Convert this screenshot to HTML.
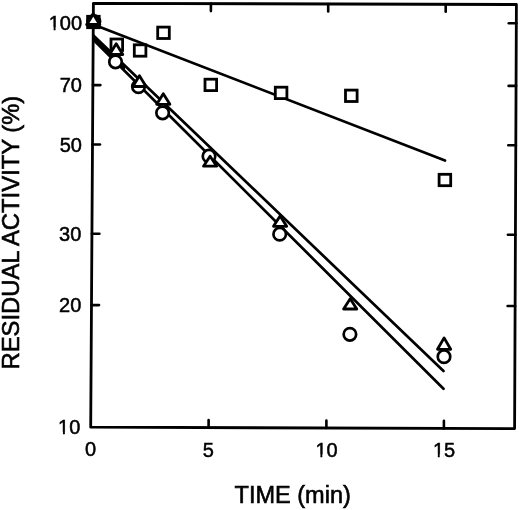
<!DOCTYPE html>
<html><head><meta charset="utf-8"><style>
html,body{margin:0;padding:0;background:#fff;}
body{width:520px;height:510px;overflow:hidden;font-family:"Liberation Sans",sans-serif;}
svg{display:block;will-change:transform;}
</style></head><body>
<svg width="520" height="510" viewBox="0 0 520 510">
<polygon points="93.4,3.3 516.4,4.5 514.6,428.6 90.7,427.2" fill="none" stroke="#000" stroke-width="2.8" stroke-linejoin="round"/>
<g stroke="#000" stroke-width="2.6" stroke-linecap="round"><line x1="210.9" y1="3.6" x2="210.9" y2="11.1"/><line x1="328.2" y1="4.0" x2="328.2" y2="11.5"/><line x1="445.7" y1="4.3" x2="445.7" y2="11.8"/><line x1="208.6" y1="427.6" x2="208.6" y2="420.1"/><line x1="326.4" y1="428.0" x2="326.4" y2="420.5"/><line x1="443.9" y1="428.4" x2="443.9" y2="420.9"/><line x1="92.9" y1="85.1" x2="100.4" y2="85.1"/><line x1="92.5" y1="144.5" x2="100.0" y2="144.5"/><line x1="91.9" y1="233.7" x2="99.4" y2="233.7"/><line x1="91.5" y1="305.1" x2="99.0" y2="305.1"/><line x1="516.3" y1="23.3" x2="508.8" y2="23.3"/><line x1="516.1" y1="85.9" x2="508.6" y2="85.9"/><line x1="515.8" y1="145.3" x2="508.3" y2="145.3"/><line x1="515.4" y1="234.7" x2="507.9" y2="234.7"/><line x1="515.1" y1="306.0" x2="507.6" y2="306.0"/></g>
<g stroke="#000" stroke-width="2.7" stroke-linecap="round"><line x1="93.4" y1="24.5" x2="445.0" y2="160.5"/><line x1="93.4" y1="35.5" x2="443.5" y2="371.0"/><line x1="93.4" y1="39.7" x2="443.5" y2="388.8"/></g><polygon points="93.4,35.50 125.0,65.78 125.0,71.21 93.4,39.70" fill="#000"/>
<g fill="#fff" stroke="#000" stroke-width="2.7"><g stroke-linejoin="miter" stroke-width="2.8"><rect x="87.60" y="16.30" width="11.60" height="11.40" fill="#000"/><rect x="111.00" y="39.00" width="11.60" height="11.40"/><rect x="134.30" y="44.80" width="11.60" height="11.40"/><rect x="157.70" y="27.10" width="11.60" height="11.40"/><rect x="205.00" y="79.20" width="11.60" height="11.40"/><rect x="275.30" y="87.20" width="11.60" height="11.40"/><rect x="345.50" y="90.10" width="11.60" height="11.40"/><rect x="439.10" y="174.30" width="11.60" height="11.40"/></g><g><circle cx="93.80" cy="21.60" r="6.25" fill="#000"/><circle cx="115.50" cy="61.80" r="6.25"/><circle cx="138.50" cy="86.70" r="6.25"/><circle cx="162.60" cy="112.80" r="6.25"/><circle cx="209.00" cy="156.20" r="6.25"/><circle cx="279.70" cy="234.20" r="6.25"/><circle cx="349.90" cy="334.30" r="6.25"/><circle cx="444.00" cy="356.70" r="6.25"/></g><g stroke-linejoin="round" stroke-width="2.8"><polygon points="93.25,13.83 99.72,24.48 86.78,24.48" stroke-width="3.05"/><polygon points="116.20,43.70 122.80,54.50 109.60,54.50"/><polygon points="139.45,75.80 146.05,86.50 132.85,86.50"/><polygon points="163.30,93.80 169.90,104.30 156.70,104.30"/><polygon points="210.10,156.20 216.70,166.20 203.50,166.20"/><polygon points="280.10,216.00 286.70,226.30 273.50,226.30"/><polygon points="350.20,298.80 356.80,309.00 343.60,309.00"/><polygon points="444.10,337.90 450.70,349.30 437.50,349.30"/></g></g>
<g font-family="Liberation Sans, sans-serif" fill="#000"><text x="82.1" y="29.7" text-anchor="end" font-size="20" stroke="#000" stroke-width="0.5">100</text><text x="82.0" y="92.3" text-anchor="end" font-size="20" stroke="#000" stroke-width="0.5">70</text><text x="82.0" y="151.7" text-anchor="end" font-size="20" stroke="#000" stroke-width="0.5">50</text><text x="81.3" y="240.9" text-anchor="end" font-size="20" stroke="#000" stroke-width="0.5">30</text><text x="81.3" y="312.3" text-anchor="end" font-size="20" stroke="#000" stroke-width="0.5">20</text><text x="80.3" y="434.2" text-anchor="end" font-size="20" stroke="#000" stroke-width="0.5">10</text><text x="90.5" y="456.1" text-anchor="middle" font-size="20" stroke="#000" stroke-width="0.5">0</text><text x="208.4" y="456.8" text-anchor="middle" font-size="20" stroke="#000" stroke-width="0.5">5</text><text x="326.6" y="456.8" text-anchor="middle" font-size="20" stroke="#000" stroke-width="0.5">10</text><text x="444.0" y="456.8" text-anchor="middle" font-size="20" stroke="#000" stroke-width="0.5">15</text><text x="292.7" y="503" text-anchor="middle" font-size="23.5" stroke="#000" stroke-width="0.6">TIME (min)</text><text transform="translate(18.6,232.6) rotate(-90)" text-anchor="middle" font-size="23.8" stroke="#000" stroke-width="0.6">RESIDUAL ACTIVITY (%)</text></g><g fill="#fff"><rect x="49.33" y="27.40" width="4.30" height="3.70"/><rect x="55.57" y="27.40" width="4.06" height="3.70"/><rect x="58.66" y="431.90" width="4.30" height="3.70"/><rect x="64.90" y="431.90" width="4.06" height="3.70"/><rect x="316.08" y="454.50" width="4.30" height="3.70"/><rect x="322.32" y="454.50" width="4.06" height="3.70"/><rect x="433.48" y="454.50" width="4.30" height="3.70"/><rect x="439.72" y="454.50" width="4.06" height="3.70"/></g>
</svg>
</body></html>
